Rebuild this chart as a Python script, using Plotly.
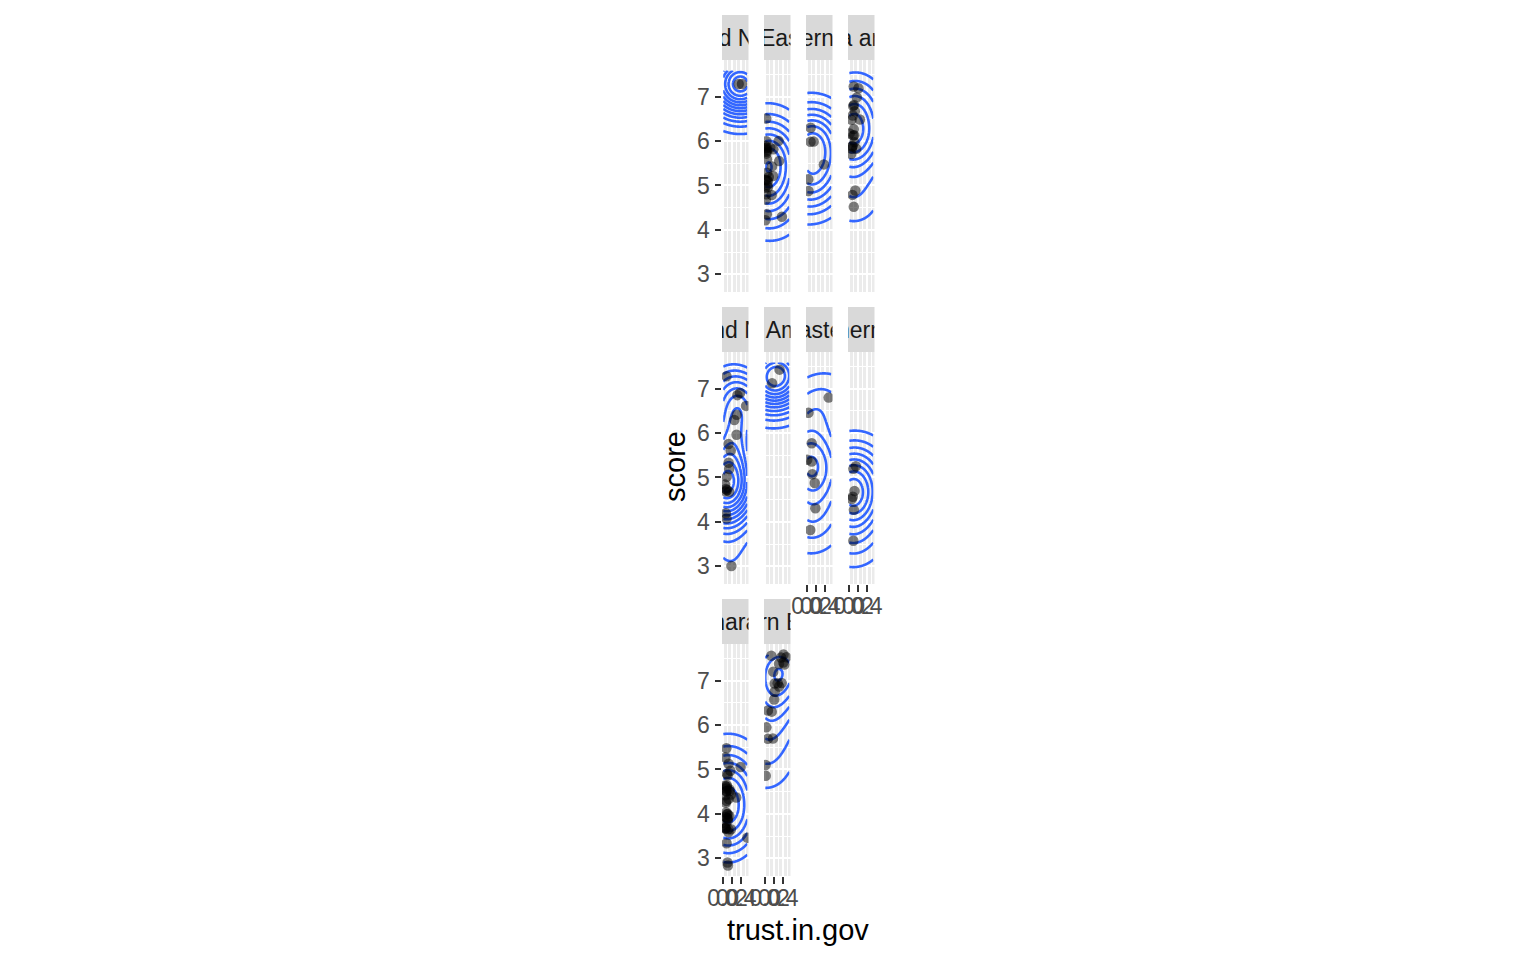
import numpy as np
import plotly.graph_objects as go

# ---------------- data (World Happiness 2015: trust.in.gov vs score) ----------------
REGIONS = [
    "Australia and New Zealand", "Central and Eastern Europe", "Eastern Asia",
    "Latin America and Caribbean", "Middle East and Northern Africa", "North America",
    "Southeastern Asia", "Southern Asia", "Sub-Saharan Africa", "Western Europe",
]

score_anz = [7.286, 7.284]
trust_anz = [0.42922, 0.35637]

score_cee = [6.505, 6.003, 5.995, 5.889, 5.855, 5.848, 5.833, 5.813, 5.791, 5.759,
             5.716, 5.589, 5.548, 5.429, 5.286, 5.212, 5.192, 5.124, 5.123, 5.098,
             5.007, 4.959, 4.949, 4.800, 4.786, 4.681, 4.350, 4.297, 4.218]
trust_cee = [0.02652, 0.30826, 0.03005, 0.01078, 0.11686, 0.03787, 0.01031, 0.19090, 0.04212, 0.03080,
             0.03005, 0.04212, 0.32000, 0.15746, 0.04232, 0.18037, 0.08423, 0.00649, 0.03780, 0.06332,
             0.05327, 0.06413, 0.00227, 0.02758, 0.15072, 0.01615, 0.03900, 0.38331, 0.00872]

score_ea = [6.298, 5.987, 5.984, 5.474, 5.140, 4.874]
trust_ea = [0.08129, 0.14975, 0.07857, 0.38240, 0.02781, 0.03203]

score_lac = [7.226, 7.187, 6.983, 6.810, 6.786, 6.670, 6.574, 6.485, 6.477, 6.269, 6.168,
             6.130, 6.123, 5.975, 5.890, 5.878, 5.828, 5.824, 5.709, 4.885, 4.788, 4.518]
trust_lac = [0.10583, 0.21312, 0.17521, 0.11069, 0.09270, 0.12869, 0.08484, 0.24558, 0.05399, 0.10713, 0.01140,
             0.11776, 0.09472, 0.12279, 0.08079, 0.06825, 0.16292, 0.05989, 0.04741, 0.14234, 0.07785, 0.10713]

score_mena = [7.278, 6.901, 6.853, 6.611, 6.411, 6.295, 5.960, 5.754, 5.605, 5.332,
              5.192, 5.013, 4.839, 4.739, 4.715, 4.686, 4.677, 4.194, 4.077, 3.006]
trust_mena = [0.07785, 0.38583, 0.32524, 0.52208, 0.31048, 0.25609, 0.30600, 0.12520, 0.17383, 0.12569,
              0.13788, 0.08170, 0.04582, 0.06358, 0.08884, 0.05863, 0.13788, 0.06324, 0.07854, 0.18906]

score_na = [7.427, 7.119]
trust_na = [0.32957, 0.15890]

score_sea = [6.798, 6.455, 5.770, 5.399, 5.360, 5.073, 4.876, 4.307, 3.819]
trust_sea = [0.49210, 0.03187, 0.10501, 0.00322, 0.10441, 0.11850, 0.17441, 0.18913, 0.07247]

score_sa = [5.253, 5.194, 4.694, 4.565, 4.514, 4.271, 3.575]
trust_sa = [0.15445, 0.09719, 0.12279, 0.08492, 0.05907, 0.10947, 0.09719]

score_ssa = [5.477, 5.268, 5.129, 5.057, 4.971, 4.898, 4.867, 4.642, 4.633, 4.610,
             4.571, 4.550, 4.517, 4.512, 4.507, 4.436, 4.419, 4.369, 4.332, 4.292,
             4.252, 4.033, 3.995, 3.989, 3.956, 3.931, 3.904, 3.896, 3.845, 3.781,
             3.681, 3.678, 3.667, 3.656, 3.655, 3.587, 3.465, 3.340, 2.905, 2.839]
trust_ssa = [0.07521, 0.05426, 0.12468, 0.39928, 0.16524, 0.08810, 0.10713, 0.08742, 0.04355, 0.08079,
             0.07285, 0.14609, 0.07625, 0.14957, 0.07285, 0.17922, 0.06232, 0.30017, 0.12474, 0.07564,
             0.06232, 0.07122, 0.10501, 0.08452, 0.14272, 0.06320, 0.09179, 0.10713, 0.10713, 0.05747,
             0.05399, 0.05565, 0.05269, 0.12139, 0.17922, 0.12352, 0.55191, 0.08010, 0.10062, 0.11000]

score_we = [7.587, 7.561, 7.527, 7.522, 7.406, 7.378, 7.364, 7.200, 6.946, 6.940, 6.937,
            6.867, 6.750, 6.575, 6.329, 6.302, 5.948, 5.695, 5.689, 5.102, 4.857]
trust_we = [0.41978, 0.14145, 0.48357, 0.36503, 0.41372, 0.31814, 0.43844, 0.18676, 0.37798, 0.28703, 0.21843,
            0.32067, 0.21843, 0.20646, 0.06398, 0.15140, 0.02901, 0.17922, 0.06146, 0.01078, 0.01397]

X_TICKS = [0.0, 0.2, 0.4]
X_TICK_TEXT = ["0.0", "0.2", "0.4"]
Y_TICKS = [3, 4, 5, 6, 7]
Y_TICK_TEXT = ["3", "4", "5", "6", "7"]

KDE_H = [2.0, 2.0]   # density bandwidth (MASS::kde2d style, divided by 4)
KDE_N = 100

region_data = {
    REGIONS[0]: (trust_anz, score_anz),
    REGIONS[1]: (trust_cee, score_cee),
    REGIONS[2]: (trust_ea, score_ea),
    REGIONS[3]: (trust_lac, score_lac),
    REGIONS[4]: (trust_mena, score_mena),
    REGIONS[5]: (trust_na, score_na),
    REGIONS[6]: (trust_sea, score_sea),
    REGIONS[7]: (trust_sa, score_sa),
    REGIONS[8]: (trust_ssa, score_ssa),
    REGIONS[9]: (trust_we, score_we),
}

# ---------------- stats ----------------
all_x = np.concatenate([np.array(v[0]) for v in region_data.values()])
all_y = np.concatenate([np.array(v[1]) for v in region_data.values()])
xmin, xmax = all_x.min(), all_x.max()
ymin, ymax = all_y.min(), all_y.max()
gx = np.linspace(xmin, xmax, KDE_N)
gy = np.linspace(ymin, ymax, KDE_N)


def dnorm(u):
    return np.exp(-0.5 * u * u) / np.sqrt(2 * np.pi)


def kde2d(x, y):
    x = np.asarray(x, float)
    y = np.asarray(y, float)
    hx, hy = KDE_H[0] / 4.0, KDE_H[1] / 4.0
    ax = (gx[:, None] - x[None, :]) / hx
    ay = (gy[:, None] - y[None, :]) / hy
    return dnorm(ax) @ dnorm(ay).T / (len(x) * hx * hy)   # [ix, iy]


def r_pretty(lo, up, n=10):
    h, h5 = 1.5, 0.5 + 1.5 * 1.5
    dx = up - lo
    cell = dx / n
    U = 10 ** np.floor(np.log10(cell))
    unit = U
    if 2 * U - cell < h * (cell - unit):
        unit = 2 * U
        if 5 * U - cell < h5 * (cell - unit):
            unit = 5 * U
            if 10 * U - cell < h * (cell - unit):
                unit = 10 * U
    ns = np.floor(lo / unit + 1e-7)
    nu = np.ceil(up / unit - 1e-7)
    return np.arange(ns, nu + 1) * unit, unit


dens = {r: kde2d(*region_data[r]) for r in REGIONS}

xr = [xmin - 0.05 * (xmax - xmin), xmax + 0.05 * (xmax - xmin)]
yr = [ymin - 0.05 * (ymax - ymin), ymax + 0.05 * (ymax - ymin)]

# ---------------- layout geometry (pixels) ----------------
W_FIG, H_FIG = 1536, 960
COL_L = [722, 764, 806, 848]
PANEL_W = 26.5
STRIP_T = [15, 307, 599]
STRIP_H = 45
PANEL_H = 232

FONT = "Liberation Sans, Arial, Helvetica, sans-serif"
TICK_FS = 23
TITLE_FS = 29

fig = go.Figure()
layout = dict(
    template="none",
    width=W_FIG, height=H_FIG,
    margin=dict(l=0, r=0, t=0, b=0),
    paper_bgcolor="white",
    plot_bgcolor="rgba(0,0,0,0)",
    showlegend=False,
    font=dict(family=FONT),
)
shapes = []
annotations = []


def px_dom_x(l, w):
    return [l / W_FIG, (l + w) / W_FIG]


def px_dom_y(t, h):
    return [1 - (t + h) / H_FIG, 1 - t / H_FIG]


bottom_panel_of_col = {0: 8, 1: 9, 2: 6, 3: 7}

for i, region in enumerate(REGIONS):
    row, col = divmod(i, 4)
    k = i + 1
    xs = "" if k == 1 else str(k)
    L = COL_L[col]
    ptop = STRIP_T[row] + STRIP_H
    show_x = bottom_panel_of_col[col] == i
    show_y = col == 0

    layout["xaxis" + xs] = dict(
        domain=px_dom_x(L, PANEL_W), range=xr, anchor="y" + xs,
        tickmode="array", tickvals=X_TICKS, ticktext=X_TICK_TEXT,
        showticklabels=show_x, ticks="outside" if show_x else "",
        ticklen=6.5, tickwidth=2, tickcolor="#333333", tickangle=0,
        ticklabelstandoff=-5,
        tickfont=dict(size=TICK_FS, color="#4D4D4D", family=FONT),
        showgrid=True, gridcolor="white", gridwidth=2.2,
        minor=dict(dtick=0.1, tick0=0, showgrid=True, gridcolor="white", gridwidth=1.1, ticks=""),
        zeroline=False, showline=False, automargin=False, fixedrange=True,
    )
    layout["yaxis" + xs] = dict(
        domain=px_dom_y(ptop, PANEL_H), range=yr, anchor="x" + xs,
        tickmode="array", tickvals=Y_TICKS, ticktext=Y_TICK_TEXT,
        showticklabels=show_y, ticks="outside" if show_y else "",
        ticklen=6.5, tickwidth=2, tickcolor="#333333", tickangle=0,
        tickfont=dict(size=TICK_FS, color="#4D4D4D", family=FONT),
        showgrid=True, gridcolor="white", gridwidth=2.2,
        minor=dict(dtick=0.5, tick0=0, showgrid=True, gridcolor="white", gridwidth=1.1, ticks=""),
        zeroline=False, showline=False, automargin=False, fixedrange=True,
    )
    # panel background
    shapes.append(dict(type="rect", xref="paper", yref="paper", layer="below",
                       x0=L / W_FIG, x1=(L + PANEL_W) / W_FIG,
                       y0=1 - (ptop + PANEL_H) / H_FIG, y1=1 - ptop / H_FIG,
                       fillcolor="#EBEBEB", line=dict(width=0)))
    # strip background
    shapes.append(dict(type="rect", xref="paper", yref="paper", layer="below",
                       x0=L / W_FIG, x1=(L + PANEL_W) / W_FIG,
                       y0=1 - (STRIP_T[row] + STRIP_H) / H_FIG, y1=1 - STRIP_T[row] / H_FIG,
                       fillcolor="#D9D9D9", line=dict(width=0)))
    # strip axes (for clipped label text)
    sk = str(k + 10)
    layout["xaxis" + sk] = dict(domain=px_dom_x(L, PANEL_W), range=[0, 1], anchor="y" + sk,
                                visible=False, fixedrange=True)
    layout["yaxis" + sk] = dict(domain=px_dom_y(STRIP_T[row], STRIP_H), range=[0, 1], anchor="x" + sk,
                                visible=False, fixedrange=True)
    fig.add_trace(go.Scatter(x=[0.5], y=[0.43], mode="text", text=[region],
                             textposition="middle center", cliponaxis=True,
                             textfont=dict(size=TICK_FS, color="#1A1A1A", family=FONT),
                             xaxis="x" + sk, yaxis="y" + sk, hoverinfo="skip"))

    tx, sc = region_data[region]
    fig.add_trace(go.Scatter(x=tx, y=sc, mode="markers", xaxis="x" + xs, yaxis="y" + xs,
                             marker=dict(size=10.5, color="rgba(0,0,0,0.5)", line=dict(width=0)),
                             hoverinfo="skip"))
    z = dens[region]
    brks, step = r_pretty(float(z.min()), float(z.max()), 10)
    brks = brks[(brks > z.min()) & (brks < z.max())]
    fig.add_trace(go.Contour(x=gx, y=gy, z=z.T, xaxis="x" + xs, yaxis="y" + xs,
                             contours=dict(start=float(brks[0]), end=float(brks[-1]), size=float(step),
                                           coloring="lines", showlabels=False),
                             line=dict(color="#3366FF", width=2.6),
                             colorscale=[[0, "#3366FF"], [1, "#3366FF"]],
                             showscale=False, hoverinfo="skip"))

annotations.append(dict(text="score", xref="paper", yref="paper", x=675 / W_FIG, y=1 - 467 / H_FIG,
                        showarrow=False, textangle=-90, font=dict(size=TITLE_FS, color="black", family=FONT),
                        xanchor="center", yanchor="middle"))
annotations.append(dict(text="trust.in.gov", xref="paper", yref="paper", x=798 / W_FIG, y=1 - 930 / H_FIG,
                        showarrow=False, font=dict(size=TITLE_FS, color="black", family=FONT),
                        xanchor="center", yanchor="middle"))

layout["shapes"] = shapes
layout["annotations"] = annotations
fig.update_layout(**layout)
fig.write_html("out.html")
